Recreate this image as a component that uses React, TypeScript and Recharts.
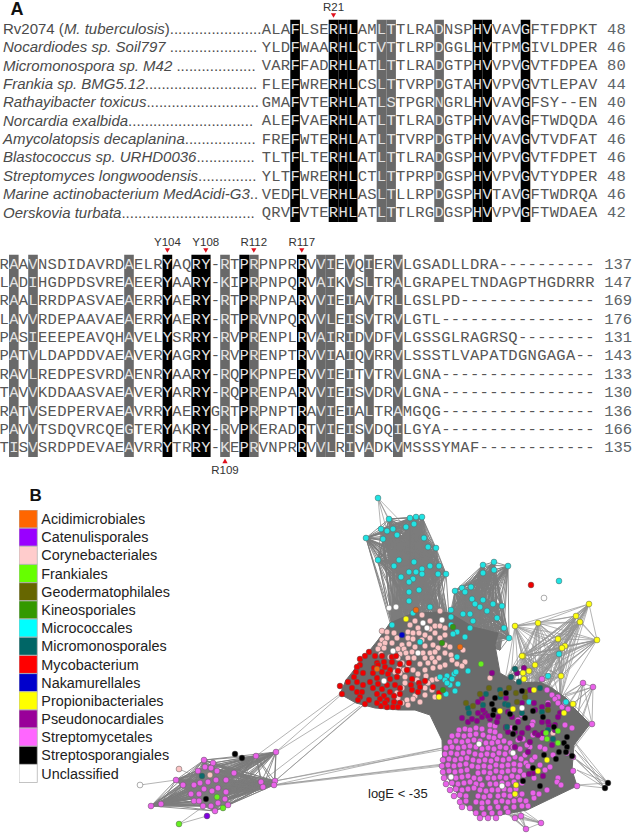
import { Bar, BarChart, Cell, ComposedChart, LabelList, Line, ReferenceArea, Scatter, ScatterChart, XAxis, YAxis } from 'recharts'

type P = [number, number]

// ---- panel A: alignment
const speciesNames = [
  'Rv2074 (|M. tuberculosis|)',
  'Nocardiodes sp. Soil797 ',
  'Micromonospora sp. M42 ',
  'Frankia sp. BMG5.12',
  'Rathayibacter toxicus',
  'Norcardia exalbida',
  'Amycolatopsis decaplanina',
  'Blastococcus sp. URHD0036',
  'Streptomyces longwoodensis',
  'Marine actinobacterium MedAcidi-G3',
  'Oerskovia turbata',
]
const leaderDots = [22, 21, 19, 27, 27, 30, 17, 14, 14, 2, 32]

const topRows = [
  'ALAFLSERHLAMLTTLRADNSPHVVAVGFTFDPKT',
  'YLDFWAARHLCTVTTLRPDGGLHVTPMGIVLDPER',
  'VARFFADRHLATLTTLRADGTPHVVPVGVTFDPEA',
  'FLEFWRERHLCSLTTVRPDGTAHVVPVGVTLEPAV',
  'GMAFVTERHLATLSTPGRNGRLHVVAVGFSY--EN',
  'ALEFVAERHLATLTTLRADGTPHVVAVGFTWDQDA',
  'FREFWTERHLATLTTVRPDGTPHVVAVGVTVDFAT',
  'TLTFLTERHLATLTTLRADGSPHVVPVGVTFDPET',
  'YLTFWRERHLCTLTTPRPDGSPHVVPVGVTYDPER',
  'VEDFLVERHLASLTLLRPDGSPHVTAVGFTWDRQA',
  'QRVFVTERHLATLTTLRGDGSPHVVPVGFTWDAEA',
]
const topCounts = ['48', '46', '80', '44', '40', '46', '46', '46', '48', '46', '42']
const topBlack = [3, 7, 8, 9, 22, 23, 27]
const topGray = [12, 13, 18]
const topMarkers = [{ col: 7, name: 'R21', below: false }]

const bottomRows = [
  'RAAVNSDIDAVRDAELRYAQRY-RTPRPNPRRVVIEVQIERVLGSADLLDRA----------',
  'LADIHGDPDSVREAEERYAARY-KIPRPNPQRVAIKVSLTRALGRAPELTNDAGPTHGDRRR',
  'RAALRRDPASVAEAERRYAERY-RTPRPNPARVVIEIAVTRLLGSLPD--------------',
  'LAVVRDEPAAVAEAERRYAERY-RTPRVNPQRVVLEISVTRVLGTL----------------',
  'PASIEEEPEAVQHAVELYSRRY-RVPRENPLRVAIRIDVDFVLGSSGLRAGRSQ--------',
  'PATVLDAPDDVAEAVERYAGRY-RVPRENPTRVVIAIQVRRVLSSSTLVAPATDGNGAGA--',
  'RAVLREDPESVRDAENRYAARY-RQPKPNPERVVIEITVTRVLGNA----------------',
  'TAVVKDDAASVAEAVERYARRY-RQPRENPARVVIEISVDRVLGNA----------------',
  'RATVSEDPERVAEAVRRYAERYGRTPRPNPTRAVIEIALTRAMGQG----------------',
  'PAVVTSDQVRCQEGTERYAKRY-RVPKERADRTVIEISVDQILGYA----------------',
  'TISVSRDPDEVAEAVRRYTRRY-KEPRVNPRRVVLRIVADKVMSSSYMAF------------',
]
const bottomCounts = ['137', '147', '169', '176', '131', '143', '133', '130', '136', '166', '135']
const bottomBlack = [17, 20, 21, 25, 31]
const bottomGray = [1, 3, 13, 23, 26, 33, 34, 36, 38, 41]
const bottomMarkers = [
  { col: 17, name: 'Y104', below: false },
  { col: 21, name: 'Y108', below: false },
  { col: 26, name: 'R112', below: false },
  { col: 31, name: 'R117', below: false },
  { col: 23, name: 'R109', below: true },
]

// ---- panel B: legend
const orderNames = [
  'Acidimicrobiales',
  'Catenulisporales',
  'Corynebacteriales',
  'Frankiales',
  'Geodermatophilales',
  'Kineosporiales',
  'Micrococcales',
  'Micromonosporales',
  'Mycobacterium',
  'Nakamurellales',
  'Propionibacteriales',
  'Pseudonocardiales',
  'Streptomycetales',
  'Streptosporangiales',
  'Unclassified',
]
const orderColors = [
  '#ff6600', '#9900ff', '#ffcccc', '#66ff00', '#666600', '#339900', '#00ffff', '#006666',
  '#ff0000', '#0000cc', '#ffff00', '#990099', '#ff66ff', '#000000', '#ffffff',
]

// ---- panel B: network nodes
const micrococcalesUpper: P[] = [
  [389, 519], [381, 529], [387, 531], [393, 529], [397, 535], [383, 539], [366, 538], [406, 527],
  [410, 518], [416, 517], [422, 517], [414, 524], [424, 538], [428, 547], [436, 548], [378, 560], [399, 560],
  [394, 566], [414, 562], [430, 566], [439, 566], [409, 572], [416, 572], [422, 569], [422, 574], [438, 574],
  [446, 574], [401, 577], [413, 579], [409, 582], [409, 592], [419, 590], [409, 601], [430, 607], [413, 613], [392, 625],
]
const micrococcalesRight: P[] = [
  [455, 591], [462, 588], [465, 592], [471, 587], [483, 565], [483, 573], [494, 562], [494, 570], [508, 566],
  [472, 599], [483, 600], [475, 604], [480, 607], [493, 604], [502, 606], [487, 611], [451, 610], [451, 617],
  [463, 614], [470, 614], [473, 621], [497, 618], [451, 625], [457, 632], [453, 634], [470, 628], [465, 637],
  [504, 628], [509, 638],
]
const micrococcalesOther: P[] = [
  [378, 498], [420, 642], [457, 657], [468, 671], [440, 677], [447, 676], [454, 674], [456, 672], [445, 680], [452, 679],
  [450, 685], [447, 683], [458, 684], [455, 691], [446, 694], [559, 581], [559, 654], [548, 676], [529, 702], [566, 702],
]
const corynebacteriales: P[] = [
  [422, 615], [440, 611], [415, 621], [430, 621], [435, 626], [410, 625], [418, 628], [430, 629], [440, 626], [445, 628],
  [382, 631], [387, 632], [394, 633], [408, 632], [413, 633], [419, 633], [425, 635], [430, 638], [435, 633], [440, 638],
  [445, 635], [382, 640], [387, 638], [397, 638], [408, 638], [413, 639], [422, 640], [433, 645], [445, 645], [450, 647],
  [380, 645], [385, 643], [392, 643], [402, 645], [409, 644], [415, 647], [425, 646], [438, 648], [378, 649], [384, 648],
  [398, 649], [404, 649], [412, 652], [423, 653], [430, 653], [435, 652], [445, 653], [451, 655], [463, 650], [381, 654],
  [400, 654], [406, 653], [390, 657], [395, 655], [408, 658], [414, 658], [425, 658], [432, 658], [439, 658], [452, 660],
  [457, 664], [465, 662], [398, 658], [402, 663], [408, 665], [420, 664], [428, 663], [435, 662], [445, 665], [462, 666],
  [399, 668], [404, 670], [413, 670], [425, 670], [433, 668], [440, 667], [395, 672], [400, 673], [418, 674], [426, 676],
  [405, 677], [417, 680], [432, 680], [437, 679], [428, 683], [405, 683], [402, 688], [425, 695], [415, 696], [407, 700],
  [413, 699], [402, 703], [408, 705], [420, 702], [432, 690], [435, 697], [397, 693], [398, 698], [425, 688], [490, 678],
]
const mycobacterium: P[] = [
  [369, 652], [365, 656], [360, 659], [375, 656], [382, 656], [392, 657], [396, 656], [360, 665], [357, 667], [377, 663],
  [384, 662], [392, 662], [400, 664], [409, 663], [356, 672], [363, 673], [374, 668], [378, 665], [385, 667], [390, 670],
  [398, 671], [407, 670], [354, 677], [373, 673], [382, 672], [388, 674], [397, 677], [348, 682], [357, 682], [363, 685],
  [370, 682], [377, 678], [378, 684], [390, 679], [387, 685], [395, 685], [412, 679], [411, 685], [419, 683], [425, 681],
  [433, 687], [352, 688], [357, 692], [362, 692], [373, 688], [382, 689], [390, 692], [400, 688], [412, 690], [420, 687],
  [418, 692], [439, 693], [360, 697], [358, 700], [377, 694], [384, 696], [394, 696], [400, 694], [380, 699], [387, 700],
  [394, 702], [400, 703], [381, 706], [387, 707], [393, 707], [377, 703], [385, 703], [398, 707], [340, 686], [342, 694],
  [365, 704], [369, 700], [531, 585],
]
const streptomycetales: P[] = [
  [490, 725], [495, 726], [459, 730], [465, 729], [470, 730], [476, 728], [482, 729], [490, 731], [495, 732],
  [452, 736], [458, 735], [464, 736], [470, 735], [476, 734], [483, 735], [489, 737], [494, 738], [500, 736],
  [450, 742], [456, 741], [462, 742], [468, 741], [474, 740], [480, 741], [486, 743], [492, 743], [498, 742], [504, 741], [510, 743],
  [446, 748], [452, 747], [458, 748], [464, 747], [470, 746], [476, 747], [482, 749], [488, 748], [494, 749], [500, 747], [506, 748], [513, 747],
  [445, 754], [451, 753], [457, 754], [463, 753], [469, 752], [475, 754], [481, 755], [487, 754], [493, 755], [499, 753], [505, 754], [511, 752],
  [443, 760], [449, 759], [455, 760], [461, 759], [467, 758], [473, 760], [479, 761], [485, 760], [491, 761], [497, 759], [503, 760], [509, 759], [515, 757], [521, 759],
  [442, 766], [448, 765], [454, 766], [460, 765], [466, 764], [472, 766], [478, 767], [484, 766], [490, 767], [496, 765], [502, 766], [508, 765], [514, 764], [520, 765], [526, 763],
  [443, 772], [449, 771], [455, 772], [461, 771], [467, 770], [478, 773], [484, 772], [490, 773], [496, 771], [502, 772], [508, 771], [514, 770], [520, 771],
  [444, 778], [450, 777], [456, 778], [462, 777], [468, 776], [474, 778], [480, 779], [488, 778], [494, 778], [500, 777], [506, 778], [512, 776], [518, 777], [524, 775],
  [446, 784], [452, 783], [458, 784], [464, 783], [470, 782], [476, 784], [482, 785], [490, 784], [496, 784], [502, 783], [508, 784], [514, 782], [522, 783],
  [450, 790], [456, 789], [462, 790], [468, 789], [474, 788], [480, 790], [486, 791], [492, 790], [498, 790], [504, 789], [510, 790], [516, 789],
  [454, 796], [460, 795], [466, 796], [478, 796], [484, 797], [490, 796], [498, 796], [504, 795], [510, 796], [516, 795], [522, 794],
  [460, 802], [466, 801], [476, 802], [482, 803], [488, 802], [496, 802], [502, 801], [508, 802], [514, 801], [520, 800], [526, 801],
  [462, 807], [470, 808], [482, 808], [490, 808], [498, 807], [506, 808], [514, 807], [522, 806],
  [476, 813], [484, 814], [492, 813], [500, 813], [508, 812], [480, 818], [488, 818], [496, 818], [515, 818], [521, 816], [541, 823], [526, 829], [528, 806],
  [542, 679], [583, 683], [593, 687], [592, 724], [547, 690], [552, 695], [558, 697], [548, 703], [555, 699], [562, 707],
  [568, 709], [565, 703], [558, 703], [565, 725], [572, 728], [533, 722], [532, 725], [518, 720], [522, 715], [511, 728],
  [533, 735], [542, 738], [540, 747], [530, 747], [523, 739], [518, 740], [527, 745], [520, 749], [513, 747], [525, 755],
  [532, 760], [535, 757], [540, 765], [553, 755], [550, 767], [573, 771], [558, 778], [573, 757], [567, 753], [577, 786],
  [557, 782], [561, 785], [547, 790], [539, 794], [534, 798], [533, 793], [545, 749], [528, 766], [534, 778], [545, 770],
]
const pseudonocardiales: P[] = [
  [468, 722], [472, 719], [477, 721], [482, 717], [478, 713], [485, 713], [490, 719], [497, 722], [483, 710], [488, 716],
  [498, 717], [508, 712], [512, 717], [506, 728], [508, 732], [518, 722], [515, 732], [522, 733], [535, 733], [538, 735],
  [549, 725], [555, 725], [552, 745], [555, 730], [528, 752], [533, 773], [543, 776], [520, 738], [515, 747], [530, 742],
  [543, 733], [548, 705], [534, 703], [522, 703], [478, 702], [535, 710], [492, 673], [524, 668], [517, 673], [530, 690],
  [506, 698], [482, 698], [462, 718], [529, 774], [542, 707], [560, 713], [558, 717], [510, 713], [506, 727], [528, 728],
  [542, 722], [548, 722],
]
const micromonosporales: P[] = [
  [515, 669], [511, 677], [519, 682], [540, 688], [500, 690], [486, 694], [500, 697], [483, 705], [468, 708], [469, 713],
  [505, 704], [508, 705], [522, 713], [542, 712], [507, 727], [553, 739], [548, 730], [202, 776],
]
const geodermatophilales: P[] = [
  [489, 688], [480, 694], [466, 703], [473, 706], [509, 688], [501, 694], [516, 693], [525, 692], [525, 697], [548, 710], [517, 702],
]
const streptosporangiales: P[] = [
  [522, 691], [506, 693], [495, 698], [492, 704], [494, 710], [493, 715], [510, 714], [533, 711], [525, 718], [543, 717],
  [515, 728], [513, 734], [554, 727], [567, 737], [564, 743], [567, 747], [566, 752], [572, 756], [544, 755], [559, 752],
  [556, 759], [533, 768], [540, 786], [523, 781], [608, 783], [605, 788], [235, 754], [242, 758], [206, 799],
]
const propionibacteriales: P[] = [
  [406, 619], [439, 697], [500, 711], [513, 709], [564, 713], [547, 760], [538, 771], [516, 785], [515, 794], [523, 656],
  [535, 665], [529, 671], [523, 673], [524, 679], [534, 690], [573, 704], [561, 676], [515, 626], [538, 623], [589, 604],
  [576, 616], [580, 622], [597, 640], [558, 639], [565, 646], [562, 648], [522, 656],
]
const frankiales: P[] = [[481, 664], [546, 733], [558, 731], [547, 739], [558, 743], [217, 797], [223, 808], [179, 824]]
const kineosporiales: P[] = [[442, 643], [453, 627], [443, 690]]
const acidimicrobiales: P[] = [[416, 610], [460, 647], [377, 669]]
const nakamurellales: P[] = [[402, 635]]
const catenulisporales: P[] = [[207, 816]]
const unclassified: P[] = [
  [389, 608], [396, 607], [423, 623], [427, 628], [442, 620], [393, 651], [418, 653], [384, 681], [479, 744], [513, 753],
  [451, 777], [502, 786], [522, 708], [544, 598], [140, 785],
]
const outlierCoryne: P[] = [[179, 769], [210, 775], [553, 733]]

const smallCluster: P[] = [
  [204, 760], [213, 763], [205, 767], [211, 768], [198, 771], [217, 771], [176, 780], [183, 785], [194, 785], [200, 783],
  [208, 782], [216, 780], [226, 780], [234, 773], [256, 756], [276, 752], [261, 782], [263, 787], [275, 781], [274, 785],
  [204, 789], [212, 791], [218, 788], [191, 794], [199, 794], [226, 792], [225, 799], [194, 801], [199, 801], [218, 803],
  [228, 805], [203, 806], [211, 806], [215, 811], [161, 804], [151, 806],
]

// outline of the solid grey core of the network
const coreOutline: P[] = [
  [390, 623], [413, 613], [440, 612], [450, 613], [473, 627], [498, 633], [495, 645], [500, 673], [517, 683], [540, 682],
  [552, 688], [566, 698], [574, 708], [590, 724], [574, 745], [572, 770], [577, 786], [527, 810], [500, 815], [480, 817],
  [463, 803], [443, 770], [442, 740], [430, 715], [415, 710], [400, 710], [375, 708], [356, 703], [340, 694], [346, 680],
  [378, 640], [390, 623],
]

// hubs that the sparse fans run into
const pinkHubs: P[] = [[395, 640], [410, 632], [425, 625], [440, 618], [450, 630], [402, 650]]
const fanHubs: P[] = [[470, 640], [480, 650], [490, 640], [500, 650], [465, 625], [452, 640]]
const topHubs: P[] = [[510, 690], [530, 690], [545, 695], [560, 700], [520, 700], [505, 680], [540, 682]]
const yellowFan: P[] = [
  [515, 626], [538, 623], [589, 604], [576, 616], [580, 622], [597, 640], [558, 639], [565, 646], [562, 648], [522, 656],
  [559, 654], [523, 656], [535, 665], [529, 671], [561, 676],
]
const rightFan: P[] = [[583, 683], [593, 687], [592, 724]]
const rightHubs: P[] = [[555, 700], [565, 710], [570, 725], [575, 735], [560, 715], [572, 750], [565, 695]]
const blackFan: P[] = [[608, 783], [605, 788]]
const blackHubs: P[] = [[575, 750], [577, 760], [577, 770], [577, 785], [572, 756], [573, 740]]
const bottomFan: P[] = [[541, 823], [526, 829], [515, 818], [521, 816]]
const bottomHubs: P[] = [[505, 812], [515, 810], [520, 808], [510, 815]]
const longLinks: [P, P][] = [
  [[256, 756], [340, 694]], [[276, 752], [342, 694]], [[276, 752], [356, 702]], [[261, 782], [360, 706]],
  [[275, 781], [365, 704]], [[275, 781], [369, 700]], [[275, 781], [442, 748]], [[274, 785], [443, 748]],
  [[275, 781], [442, 750]], [[274, 785], [443, 764]], [[274, 785], [442, 765]], [[263, 787], [443, 766]],
  [[140, 785], [176, 780]], [[179, 824], [207, 816]], [[179, 824], [204, 806]], [[179, 769], [204, 780]],
  [[378, 498], [389, 519]], [[378, 498], [381, 529]], [[378, 498], [387, 531]], [[378, 498], [406, 527]], [[378, 498], [393, 529]],
]

const W = 633
const H = 833
const CELL_W = 9.6
const ROW_H = 18.37
const PANEL_H = 240
const TEXT = '#4a4a4a'
const MARKER_RED = '#e0101c'
const CORE = '#6b6b6b'

// every pair inside a list, then every pair between two lists
const mesh = (a: P[]) => a.flatMap((p, i) => a.slice(i + 1).map((q) => [p, q] as [P, P]))
const cross = (a: P[], b: P[]) => a.flatMap((p) => b.map((q) => [p, q] as [P, P]))
const toPath = (pairs: [P, P][]) =>
  pairs.flatMap(([p, q]) => [{ x: p[0], y: p[1] }, { x: q[0], y: q[1] }, { x: null, y: null }])
const toPoints = (list: P[]) => list.map(([x, y]) => ({ x, y }))

const denseEdges = toPath([
  ...mesh(micrococcalesUpper),
  ...cross(micrococcalesUpper, pinkHubs),
  ...mesh(micrococcalesRight),
  ...cross(micrococcalesRight, fanHubs),
  ...mesh(smallCluster),
])
const sparseEdges = toPath([
  ...mesh(yellowFan),
  ...cross(yellowFan, topHubs),
  ...mesh(rightFan),
  ...cross(rightFan, rightHubs),
  ...cross(blackFan, blackHubs),
  ...mesh(bottomFan),
  ...cross(bottomFan, bottomHubs),
  ...longLinks,
])

const nodeGroups: { name: string; fill: string; nodes: P[] }[] = [
  { name: 'Streptomycetales', fill: '#ea62ea', nodes: [...streptomycetales, ...smallCluster] },
  { name: 'Corynebacteriales', fill: '#fcc4c4', nodes: [...corynebacteriales, ...outlierCoryne] },
  { name: 'Mycobacterium', fill: '#f00000', nodes: mycobacterium },
  { name: 'Micrococcales', fill: '#20e4e4', nodes: [...micrococcalesUpper, ...micrococcalesRight, ...micrococcalesOther] },
  { name: 'Pseudonocardiales', fill: '#8c008c', nodes: pseudonocardiales },
  { name: 'Micromonosporales', fill: '#0a6a6a', nodes: micromonosporales },
  { name: 'Geodermatophilales', fill: '#666610', nodes: geodermatophilales },
  { name: 'Streptosporangiales', fill: '#000000', nodes: streptosporangiales },
  { name: 'Propionibacteriales', fill: '#ffff10', nodes: propionibacteriales },
  { name: 'Frankiales', fill: '#66f020', nodes: frankiales },
  { name: 'Kineosporiales', fill: '#339910', nodes: kineosporiales },
  { name: 'Acidimicrobiales', fill: '#f06a10', nodes: acidimicrobiales },
  { name: 'Nakamurellales', fill: '#0000c8', nodes: nakamurellales },
  { name: 'Catenulisporales', fill: '#8000e0', nodes: catenulisporales },
  { name: 'Unclassified', fill: '#ffffff', nodes: unclassified },
]

const pageTexts = [
  { x: 10.5, y: 15, text: 'A', size: 18, weight: 700, color: '#111' },
  { x: 29.5, y: 501, text: 'B', size: 17, weight: 700, color: '#111' },
  { x: 368, y: 798, text: 'logE < -35', size: 13, weight: 400, color: '#222' },
]

function AlignmentPanel({ top, x0, rows, counts, countCol, black, gray, markers, species }: {
  top: number
  x0: number
  rows: string[]
  counts: string[]
  countCol: number
  black: number[]
  gray: number[]
  markers: { col: number; name: string; below: boolean }[]
  species?: string[]
}) {
  const y0 = 29
  const shaded = (col: number) => black.includes(col) || gray.includes(col)
  const cells = rows.flatMap((seq, row) => seq.split('').map((ch, col) => ({ col, row, ch })))
  const countPoints = counts.map((text, row) => ({ col: countCol - 0.5, row, text }))
  const markerText = markers.map((m) => ({ col: m.col, row: m.below ? 11.2 : -1.2, text: m.name }))
  const markerArrows = markers.map((m) => ({ col: m.col, row: m.below ? 10.72 : -0.74, below: m.below }))
  const labelCol = (3 - x0) / CELL_W - 0.5

  return (
    <div style={{ position: 'absolute', left: 0, top }}>
      <ScatterChart width={W} height={PANEL_H} margin={{ top: 0, right: 0, bottom: 0, left: 0 }}>
        <XAxis type="number" dataKey="col" hide domain={[-x0 / CELL_W - 0.5, (W - x0) / CELL_W - 0.5]} allowDataOverflow />
        <YAxis type="number" dataKey="row" hide reversed domain={[-y0 / ROW_H, (PANEL_H - y0) / ROW_H]} allowDataOverflow />
        {gray.map((c) => (
          <ReferenceArea key={`g${c}`} x1={c - 0.5} x2={c + 0.5} y1={-0.5} y2={10.5} fill="#696969" fillOpacity={1} stroke="none" ifOverflow="visible" />
        ))}
        {black.map((c) => (
          <ReferenceArea key={`b${c}`} x1={c - 0.5} x2={c + 0.5} y1={-0.5} y2={10.5} fill="#000" fillOpacity={1} stroke="none" ifOverflow="visible" />
        ))}
        <Scatter
          data={cells}
          isAnimationActive={false}
          shape={(p: any) => (
            <text
              x={p.cx}
              y={p.cy + 4.6}
              textAnchor="middle"
              fontFamily="'Liberation Mono', monospace"
              fontSize={15.5}
              fill={shaded(p.payload.col) ? '#e2e2e2' : '#565656'}
            >
              {p.payload.ch}
            </text>
          )}
        />
        <Scatter
          data={countPoints}
          isAnimationActive={false}
          shape={(p: any) => (
            <text x={p.cx} y={p.cy + 4.6} fontFamily="'Liberation Mono', monospace" fontSize={15.5} fill="#5c6468">
              {p.payload.text}
            </text>
          )}
        />
        <Scatter
          data={markerText}
          isAnimationActive={false}
          shape={(p: any) => (
            <text x={p.cx} y={p.cy + 4.2} textAnchor="middle" fontFamily="'Liberation Sans', Arial" fontSize={11.5} fill="#333">
              {p.payload.text}
            </text>
          )}
        />
        <Scatter
          data={markerArrows}
          isAnimationActive={false}
          shape={(p: any) => (
            <path
              d={p.payload.below
                ? `M${p.cx - 2.6} ${p.cy + 2.2}L${p.cx + 2.6} ${p.cy + 2.2}L${p.cx} ${p.cy - 2.4}Z`
                : `M${p.cx - 2.6} ${p.cy - 2.2}L${p.cx + 2.6} ${p.cy - 2.2}L${p.cx} ${p.cy + 2.4}Z`}
              fill={MARKER_RED}
            />
          )}
        />
        {species && (
          <Scatter
            data={species.map((name, row) => ({ col: labelCol, row, name, dots: leaderDots[row] }))}
            isAnimationActive={false}
            shape={(p: any) => {
              const parts = p.payload.name.split('|')
              return (
                <text x={p.cx} y={p.cy + 4.8} fontFamily="'Liberation Sans', Arial" fontSize={15} fill={TEXT}>
                  {parts.length > 1 ? (
                    <>
                      <tspan>{parts[0]}</tspan>
                      <tspan fontStyle="italic">{parts[1]}</tspan>
                      <tspan>{parts[2]}</tspan>
                    </>
                  ) : (
                    <tspan fontStyle="italic">{parts[0]}</tspan>
                  )}
                  <tspan>{'.'.repeat(p.payload.dots)}</tspan>
                </text>
              )
            }}
          />
        )}
      </ScatterChart>
    </div>
  )
}

function OrderLegend() {
  const data = orderNames.map((name) => ({ name, value: 1 }))
  return (
    <div style={{ position: 'absolute', left: 19, top: 510 }}>
      <BarChart width={180} height={272.7} data={data} layout="vertical" barCategoryGap={0} margin={{ top: 0, right: 0, bottom: 0, left: 0 }}>
        <XAxis type="number" hide domain={[0, 180 / 18.3]} />
        <YAxis type="category" dataKey="name" hide />
        <Bar dataKey="value" isAnimationActive={false} stroke="#b4b4b4" strokeWidth={0.8}>
          {data.map((d, i) => (
            <Cell key={d.name} fill={orderColors[i]} />
          ))}
          <LabelList
            dataKey="name"
            position="right"
            offset={4}
            fill="#222"
            fontSize={14.4}
            fontFamily="'Liberation Sans', Arial"
          />
        </Bar>
      </BarChart>
    </div>
  )
}

function NetworkPanel() {
  return (
    <div style={{ position: 'absolute', left: 0, top: 0 }}>
      <style>{'.core-fill path { fill: ' + CORE + '; }'}</style>
      <ComposedChart width={W} height={H} margin={{ top: 0, right: 0, bottom: 0, left: 0 }}>
        <XAxis type="number" dataKey="x" hide domain={[0, W]} allowDataOverflow />
        <YAxis type="number" dataKey="y" hide reversed domain={[0, H]} allowDataOverflow />
        <Line
          data={sparseEdges}
          dataKey="y"
          stroke="#949494"
          strokeWidth={0.7}
          dot={false}
          activeDot={false}
          connectNulls={false}
          isAnimationActive={false}
        />
        <Line
          data={denseEdges}
          dataKey="y"
          stroke="#7c7c7c"
          strokeWidth={0.85}
          dot={false}
          activeDot={false}
          connectNulls={false}
          isAnimationActive={false}
        />
        <Line
          className="core-fill"
          data={toPoints(coreOutline)}
          dataKey="y"
          stroke={CORE}
          strokeWidth={1}
          dot={false}
          activeDot={false}
          isAnimationActive={false}
        />
        {nodeGroups.map((g) => (
          <Scatter
            key={g.name}
            name={g.name}
            data={toPoints(g.nodes)}
            dataKey="y"
            isAnimationActive={false}
            shape={(p: any) => <circle cx={p.cx} cy={p.cy} r={2.9} fill={g.fill} stroke="#5a5a5a" strokeWidth={0.5} />}
          />
        ))}
        <Scatter
          data={pageTexts}
          dataKey="y"
          isAnimationActive={false}
          shape={(p: any) => (
            <text x={p.cx} y={p.cy} fontFamily="'Liberation Sans', Arial" fontSize={p.payload.size} fontWeight={p.payload.weight} fill={p.payload.color}>
              {p.payload.text}
            </text>
          )}
        />
      </ComposedChart>
    </div>
  )
}

export default function App() {
  return (
    <div style={{ position: 'absolute', left: 0, top: 0, width: W, height: H, overflow: 'hidden', background: '#fff' }}>
      <NetworkPanel />
      <AlignmentPanel
        top={0}
        x0={261.5}
        rows={topRows}
        counts={topCounts}
        countCol={36}
        black={topBlack}
        gray={topGray}
        markers={topMarkers}
        species={speciesNames}
      />
      <AlignmentPanel
        top={235}
        x0={-0.6}
        rows={bottomRows}
        counts={bottomCounts}
        countCol={63}
        black={bottomBlack}
        gray={bottomGray}
        markers={bottomMarkers}
      />
      <OrderLegend />
    </div>
  )
}
